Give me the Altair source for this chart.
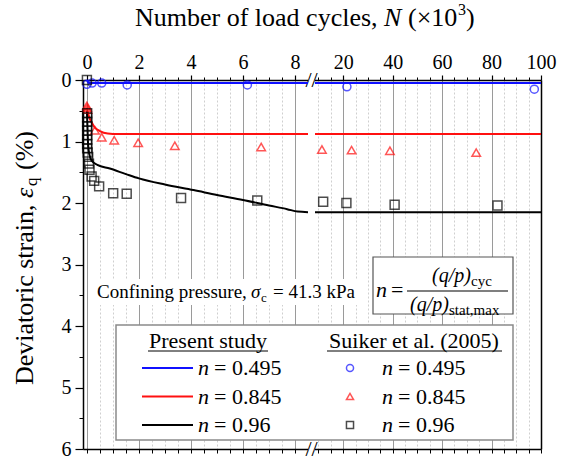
import altair as alt
import pandas as pd

FONT = "Liberation Serif"

# ---------------- data ----------------
SERIES = ["0.495", "0.845", "0.96"]
COLORS = ["#1010ff", "#ff1010", "#000000"]
SHAPES = ["circle", "triangle-up", "square"]
SIZES = [65, 80, 125]

X_MAJOR = [0, 2, 4, 6, 8, 20, 40, 60, 80, 100]
X_MINOR = [0.5, 1, 1.5, 2.5, 3, 3.5, 4.5, 5, 5.5, 6.5, 7, 7.5,
           10, 15, 25, 30, 35, 45, 50, 55, 65, 70, 75, 85, 90, 95]
Y_MAJOR = [0, 1, 2, 3, 4, 5, 6]
Y_MINOR = [0.5, 1.5, 2.5, 3.5, 4.5, 5.5]

# axis break (x 10^3 cycles)
BREAK_LEFT_END = 8.5
BREAK_RIGHT_START = 8.6

# Present study (lines), left and right of the break
BLUE_L_N = [0.0, 0.03, 0.08, 0.2, 8.5]
BLUE_L_E = [0.0, 0.03, 0.05, 0.05, 0.05]
BLUE_R_N = [8.6, 100.0]
BLUE_R_E = [0.05, 0.05]
RED_L_N = [0.0, 0.1, 0.2, 0.3, 0.5, 0.8, 1.2, 8.5]
RED_L_E = [0.45, 0.62, 0.70, 0.77, 0.83, 0.87, 0.88, 0.88]
RED_R_N = [8.6, 100.0]
RED_R_E = [0.88, 0.88]
BLACK_L_N = [0.0, 0.02, 0.04, 0.07, 0.12, 0.2, 0.4, 0.88, 1.5, 2.0, 3.0, 4.1,
             5.0, 6.0, 7.0, 7.7, 8.1, 8.5]
BLACK_L_E = [0.5, 0.75, 1.0, 1.15, 1.25, 1.32, 1.38, 1.44, 1.53, 1.6, 1.7, 1.79,
             1.87, 1.95, 2.04, 2.1, 2.14, 2.15]
BLACK_R_N = [8.6, 100.0]
BLACK_R_E = [2.15, 2.15]

# Suiker et al. (2005) (points)
EXP_BLUE_N = [0.0, 0.2, 0.57, 1.55, 6.17, 21.5, 97.3]
EXP_BLUE_E = [0.07, 0.05, 0.05, 0.08, 0.08, 0.11, 0.15]
EXP_RED_N = [0.0, 0.01, 0.02, 0.31, 0.57, 1.05, 1.97, 3.38, 6.7, 11.4, 23.4, 38.9, 73.8]
EXP_RED_E = [0.42, 0.45, 0.48, 0.82, 0.93, 0.98, 1.02, 1.07, 1.09, 1.13, 1.14, 1.15, 1.18]
EXP_BLACK_N = [0.0, 0.01, 0.01, 0.01, 0.01, 0.01, 0.01, 0.01, 0.01, 0.01, 0.03, 0.05,
               0.08, 0.1, 0.18, 0.28, 0.47, 1.01, 1.53, 3.62, 6.55, 11.9, 21.3, 40.8, 82.4]
EXP_BLACK_E = [0.0, 0.54, 0.61, 0.68, 0.75, 0.82, 0.9, 0.97, 1.04, 1.11, 1.18, 1.25,
               1.36, 1.46, 1.57, 1.64, 1.73, 1.84, 1.85, 1.92, 1.96, 1.98, 2.0, 2.03, 2.04]

# ---------------- tables ----------------
line_rows = []
for s, segs in zip(SERIES, [
    [(BLUE_L_N, BLUE_L_E), (BLUE_R_N, BLUE_R_E)],
    [(RED_L_N, RED_L_E), (RED_R_N, RED_R_E)],
    [(BLACK_L_N, BLACK_L_E), (BLACK_R_N, BLACK_R_E)],
]):
    for k, (ns, es) in enumerate(segs):
        for i, (n, e) in enumerate(zip(ns, es)):
            line_rows.append({"N": n, "eps": e, "series": s, "seg": f"{s}-{k}", "o": i})
lines_df = pd.DataFrame(line_rows)

pt_rows = []
for s, ns, es in zip(SERIES, [EXP_BLUE_N, EXP_RED_N, EXP_BLACK_N],
                     [EXP_BLUE_E, EXP_RED_E, EXP_BLACK_E]):
    for n, e in zip(ns, es):
        pt_rows.append({"N": n, "eps": e, "series": s})
pts_df = pd.DataFrame(pt_rows)

one = pd.DataFrame({"a": [0]})

# ---------------- scales ----------------
x_scale = alt.Scale(domain=[-0.15, BREAK_LEFT_END, BREAK_RIGHT_START, 100],
                    range=[0, 225, 232, 458], nice=False, zero=False)
y_scale = alt.Scale(domain=[0, 6], reverse=True, nice=False, zero=False)
color_scale = alt.Scale(domain=SERIES, range=COLORS)
shape_scale = alt.Scale(domain=SERIES, range=SHAPES)
size_scale = alt.Scale(domain=SERIES, range=SIZES)

# ---------------- data layers (also host axes) ----------------
lines = alt.Chart(lines_df).mark_line(strokeWidth=2, interpolate="monotone").encode(
    x=alt.X("N:Q", scale=x_scale, axis=alt.Axis(
        orient="top", values=X_MAJOR, grid=True, gridColor="#9a9a9a", gridWidth=1,
        labelFontSize=20, labelFont=FONT, labelColor="black", tickSize=5,
        tickColor="black", tickWidth=1.2, domainColor="black", domainWidth=1.5,
        labelPadding=3, title=None, labelFlush=False, labelOverlap=False, labelBound=False)),
    y=alt.Y("eps:Q", scale=y_scale, axis=alt.Axis(
        orient="left", values=Y_MAJOR, grid=False, labelFontSize=20, labelFont=FONT,
        labelColor="black", tickSize=8, tickColor="black", tickWidth=1.2,
        domainColor="black", domainWidth=1.5, labelPadding=4, title=None,
        labelFlush=False, labelOverlap=False, labelBound=False)),
    color=alt.Color("series:N", scale=color_scale, legend=None),
    detail="seg:N",
    order="o:Q",
)

points = alt.Chart(pts_df).mark_point(filled=False, strokeWidth=1.5).encode(
    x=alt.X("N:Q", scale=x_scale, axis=alt.Axis(
        orient="bottom", values=X_MAJOR + X_MINOR, grid=False, labels=False,
        tickSize=4, tickColor="black", domainColor="black", domainWidth=1.5, title=None)),
    y=alt.Y("eps:Q", scale=y_scale, axis=alt.Axis(
        orient="right", grid=False, labels=False, ticks=False,
        domainColor="black", domainWidth=1.5, title=None)),
    color=alt.Color("series:N", scale=color_scale, legend=None),
    shape=alt.Shape("series:N", scale=shape_scale, legend=None),
    size=alt.Size("series:N", scale=size_scale, legend=None),
)

minor_host = alt.Chart(pts_df).mark_point(opacity=0).encode(
    x=alt.X("N:Q", scale=x_scale, axis=alt.Axis(
        orient="top", values=X_MINOR, grid=True, gridColor="#cfcfcf", gridDash=[2, 2],
        gridWidth=1, labels=False, tickSize=3, tickColor="black", domain=False, title=None)),
    y=alt.Y("eps:Q", scale=y_scale, axis=alt.Axis(
        orient="left", values=Y_MINOR, grid=False, labels=False, tickSize=4,
        tickColor="black", domain=False, title=None)),
)

# ---------------- axis break ----------------
gap = alt.Chart(one).mark_rect(color="white").encode(
    x=alt.X(datum=BREAK_LEFT_END, scale=x_scale, axis=None),
    x2=alt.X2(datum=BREAK_RIGHT_START),
    y=alt.value(-4), y2=alt.value(373),
)
break_marks = alt.Chart(pd.DataFrame({"yy": [0, 369]})).mark_text(
    text="//", fontSize=22, font=FONT, color="black", baseline="middle", align="center"
).encode(x=alt.value(228.5), y=alt.Y("yy:Q", scale=None))

# ---------------- titles ----------------
TT = dict(font=FONT, color="black", baseline="middle", align="left")
xt1 = alt.Chart(one).mark_text(text="Number of load cycles,", fontSize=26, **TT).encode(
    x=alt.value(52), y=alt.value(-62))
xt2 = alt.Chart(one).mark_text(text="N", fontSize=26, fontStyle="italic", **TT).encode(
    x=alt.value(301), y=alt.value(-62))
xt3 = alt.Chart(one).mark_text(text="(×10", fontSize=26, **TT).encode(
    x=alt.value(325), y=alt.value(-62))
xt4 = alt.Chart(one).mark_text(text="3", fontSize=16, **TT).encode(
    x=alt.value(375), y=alt.value(-70))
xt5 = alt.Chart(one).mark_text(text=")", fontSize=26, **TT).encode(
    x=alt.value(383), y=alt.value(-62))

YT = dict(font=FONT, color="black", baseline="middle", align="left", angle=270)
yt1 = alt.Chart(one).mark_text(text="Deviatoric strain,", fontSize=26, **YT).encode(
    x=alt.value(-58), y=alt.value(305))
yt2 = alt.Chart(one).mark_text(text="ε", fontSize=26, fontStyle="italic", **YT).encode(
    x=alt.value(-58), y=alt.value(118))
yt3 = alt.Chart(one).mark_text(text="q", fontSize=17, **YT).encode(
    x=alt.value(-51), y=alt.value(106))
yt4 = alt.Chart(one).mark_text(text="(%)", fontSize=26, **YT).encode(
    x=alt.value(-58), y=alt.value(90))

# ---------------- confining pressure annotation ----------------
cp_bg = alt.Chart(one).mark_rect(color="white").encode(
    x=alt.value(12), x2=alt.value(276), y=alt.value(199), y2=alt.value(225))
CT = dict(font=FONT, color="black", baseline="middle", align="left")
cp1 = alt.Chart(one).mark_text(text="Confining pressure,", fontSize=19, **CT).encode(
    x=alt.value(14), y=alt.value(212))
cp2 = alt.Chart(one).mark_text(text="σ", fontSize=19, fontStyle="italic", **CT).encode(
    x=alt.value(168), y=alt.value(212))
cp3 = alt.Chart(one).mark_text(text="c", fontSize=13, **CT).encode(
    x=alt.value(178), y=alt.value(218))
cp4 = alt.Chart(one).mark_text(text="= 41.3 kPa", fontSize=19, **CT).encode(
    x=alt.value(190), y=alt.value(212))

# ---------------- formula box ----------------
fb = alt.Chart(one).mark_rect(fill="white", stroke="#555555", strokeWidth=1.2).encode(
    x=alt.value(290), x2=alt.value(430), y=alt.value(177), y2=alt.value(234))
f1 = alt.Chart(one).mark_text(text="n", fontSize=22, fontStyle="italic", **CT).encode(
    x=alt.value(293), y=alt.value(210))
f2 = alt.Chart(one).mark_text(text="=", fontSize=22, **CT).encode(
    x=alt.value(308), y=alt.value(210))
fline = alt.Chart(one).mark_rule(color="black", strokeWidth=1.2).encode(
    x=alt.value(324), x2=alt.value(425), y=alt.value(211))
f3 = alt.Chart(one).mark_text(text="(q/p)", fontSize=20, fontStyle="italic", **CT).encode(
    x=alt.value(349), y=alt.value(196))
f4 = alt.Chart(one).mark_text(text="cyc", fontSize=15, **CT).encode(
    x=alt.value(388), y=alt.value(201))
f5 = alt.Chart(one).mark_text(text="(q/p)", fontSize=20, fontStyle="italic", **CT).encode(
    x=alt.value(327), y=alt.value(225))
f6 = alt.Chart(one).mark_text(text="stat,max", fontSize=15, **CT).encode(
    x=alt.value(366), y=alt.value(230))

# ---------------- legend ----------------
legend_df = pd.DataFrame({"series": SERIES, "row": [0, 1, 2]})
leg_base = alt.Chart(legend_df).transform_calculate(
    ly="288 + datum.row * 28.5", lbl="'= ' + datum.series")
ly = alt.Y("ly:Q", scale=None)

lbox = alt.Chart(one).mark_rect(fill="white", stroke="#8a8a8a", strokeWidth=1.5).encode(
    x=alt.value(33), x2=alt.value(430), y=alt.value(245), y2=alt.value(360))
h1 = alt.Chart(one).mark_text(text="Present study", fontSize=22, font=FONT, color="black",
                              baseline="middle", align="center").encode(
    x=alt.value(125), y=alt.value(261))
h2 = alt.Chart(one).mark_text(text="Suiker et al. (2005)", fontSize=22, font=FONT, color="black",
                              baseline="middle", align="center").encode(
    x=alt.value(331), y=alt.value(261))
u1 = alt.Chart(one).mark_rule(color="black", strokeWidth=1).encode(
    x=alt.value(65), x2=alt.value(185), y=alt.value(271))
u2 = alt.Chart(one).mark_rule(color="black", strokeWidth=1).encode(
    x=alt.value(244), x2=alt.value(419), y=alt.value(271))
leg_lines = leg_base.mark_rule(strokeWidth=2).encode(
    x=alt.value(59), x2=alt.value(110), y=ly,
    color=alt.Color("series:N", scale=color_scale, legend=None))
leg_n1 = leg_base.mark_text(text="n", fontSize=22, fontStyle="italic", **CT).encode(
    x=alt.value(115), y=ly)
leg_t1 = leg_base.mark_text(fontSize=22, **CT).encode(
    x=alt.value(131), y=ly, text="lbl:N")
leg_pts = leg_base.mark_point(filled=False, strokeWidth=1.5, size=50).encode(
    x=alt.value(267), y=ly,
    color=alt.Color("series:N", scale=color_scale, legend=None),
    shape=alt.Shape("series:N", scale=shape_scale, legend=None))
leg_n2 = leg_base.mark_text(text="n", fontSize=22, fontStyle="italic", **CT).encode(
    x=alt.value(299), y=ly)
leg_t2 = leg_base.mark_text(fontSize=22, **CT).encode(
    x=alt.value(315), y=ly, text="lbl:N")

chart = alt.layer(
    minor_host, gap, break_marks,
    cp_bg, cp1, cp2, cp3, cp4,
    lines, points,
    fb, f1, f2, fline, f3, f4, f5, f6,
    lbox, h1, h2, u1, u2, leg_lines, leg_n1, leg_t1, leg_pts, leg_n2, leg_t2,
    xt1, xt2, xt3, xt4, xt5, yt1, yt2, yt3, yt4,
).resolve_axis(x="independent", y="independent").properties(
    width=458, height=369,
    autosize=alt.AutoSizeParams(type="none"),
    padding={"left": 83, "top": 80, "right": 20, "bottom": 12},
    background="white",
).configure_view(stroke=None).configure_axis(
    labelFont=FONT, labelFontSize=20, labelColor="black"
)

chart.save("out.html", embed_options={"renderer": "svg", "actions": False})
